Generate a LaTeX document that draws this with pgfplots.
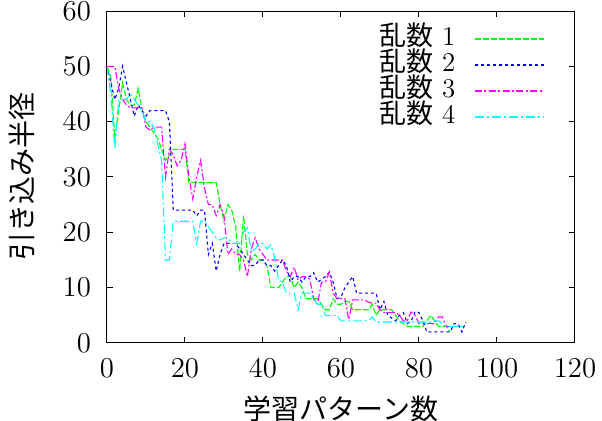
\documentclass[border=0pt]{standalone}
\usepackage{fontspec}
\usepackage{pgfplots}
\pgfplotsset{compat=1.18}
\newfontfamily\cjk{Noto Sans CJK JP}
\definecolor{gG}{RGB}{0,255,0}
\definecolor{gB}{RGB}{0,0,255}
\definecolor{gM}{RGB}{255,0,255}
\definecolor{gC}{RGB}{0,255,255}
\begin{document}
\begin{tikzpicture}
\begin{axis}[
  scale only axis, width=234pt, height=166pt,
  xmin=0, xmax=120, ymin=0, ymax=60,
  xtick={0,20,...,120}, ytick={0,10,...,60},
  tick align=inside, major tick length=3pt,
  axis line style={line width=0.5pt},
  tick style={line width=0.5pt, black},
  tick label style={font=\fontsize{14}{16}\selectfont},
  xticklabel style={yshift=-4.5pt},
  yticklabel style={xshift=-4.5pt},
  every axis x label/.style={at={(axis cs:60,-11.9)}, anchor=center},
  every axis y label/.style={at={(axis cs:-21.8,30)}, anchor=center, rotate=90},
  xlabel={\fontsize{14}{16}\selectfont\cjk 学習パターン数},
  ylabel={\fontsize{14}{16}\selectfont\cjk 引き込み半径},
  legend plot pos=right,
  legend cell align=right,
  legend image code/.code={\draw[mark repeat=2,mark phase=2,#1,line width=0.7pt] plot coordinates {(0pt,0pt) (17pt,0pt) (34.5pt,0pt)};},
  legend style={draw=none, at={(rel axis cs:0.949,0.968)}, anchor=north east,
    font=\fontsize{13.5}{15}\selectfont,
    nodes={inner sep=0pt, text height=9.5pt, text depth=3.5pt},
    row sep=0pt, column sep=9.5pt},
  every axis plot/.append style={line width=0.55pt},
]
\addplot[color=gG, dash pattern=on 3pt off 1pt] coordinates {
(0,50)(1,48)(2,37)(3,42)(4,47)(5,44)(6,43)(7,43)(8,46)(9,42)(10,40)(11,39)(12,38)(13,37)(14,35)(15,33)(16,34)(17,35)(18,35)(19,35)(20,35)
(21,29)(22,29)(23,29)(24,29)(25,29)(26,29)(27,29)(28,29)(29,25)(30,22)(31,25)(32,24)(33,21)(34,13)(35,23)(36,16)(37,15)(38,16)(39,15)(40,15)
(41,14)(42,10)(43,10)(44,10)(45,11)(46,12)(47,12)(48,10)(49,11)(50,10)(51,8)(52,8)(53,8)(54,8)(55,7)(56,6)(57,6)(58,8)(59,7)(60,7)
(61,7.5)(62,7.5)(63,6)(64,6)(65,6)(66,6)(67,6)(68,7)(69,5)(70,6)(71,6)(72,6)(73,6)(74,5)(75,4)(76,3.5)(77,3)(78,3)(79,3)(80,3)
(81,3)(82,4)(83,5)(84,4)(85,3)(86,3)(87,3)(88,2)
};
\addlegendentry{{\cjk 乱数} 1}
\addplot[color=gB, dash pattern=on 1.5pt off 1.5pt] coordinates {
(0,50)(1,47)(2,44)(3,46)(4,50)(5,47)(6,44)(7,41)(8,43)(9,42)(10,41)(11,42)(12,42)(13,42)(14,42)(15,42)(16,40)(17,24)(18,24)(19,24)(20,24)
(21,24)(22,24)(23,23)(24,24)(25,24)(26,16)(27,18)(28,13)(29,16)(30,18)(31,18)(32,18)(33,18)(34,17)(35,16)(36,15)(37,14)(38,14)(39,15)(40,15)
(41,14)(42,14)(43,13)(44,14)(45,15)(46,14)(47,11)(48,12)(49,12)(50,11)(51,12)(52,12)(53,12.7)(54,11)(55,11.5)(56,12)(57,12.8)(58,11)(59,8)(60,8.3)
(61,10)(62,11)(63,12)(64,9)(65,9)(66,9)(67,9)(68,9)(69,9)(70,6)(71,7.5)(72,5)(73,4.5)(74,4)(75,5)(76,5.5)(77,3.5)(78,4)(79,5.7)(80,5.5)
(81,4)(82,2)(83,2)(84,2)(85,2)(86,2)(87,2)(88,2)(89,3.5)(90,3.5)(91,2)(92,3.8)
};
\addlegendentry{{\cjk 乱数} 2}
\addplot[color=gM, dash pattern=on 3.5pt off 1.2pt on 1pt off 1.2pt] coordinates {
(0,50)(1,50)(2,50)(3,46)(4,44)(5,43)(6,42.5)(7,42.5)(8,42.5)(9,42.5)(10,39)(11,38.5)(12,39)(13,39)(14,39)(15,30)(16,35)(17,34)(18,32)(19,33)(20,36)
(21,30)(22,26)(23,30)(24,33)(25,28)(26,25)(27,25)(28,23)(29,25)(30,23)(31,16)(32,17)(33,16)(34,16)(35,15)(36,12)(37,17)(38,19)(39,17)(40,16)
(41,15)(42,15)(43,15)(44,15)(45,15)(46,13)(47,12)(48,13.7)(49,11.4)(50,12)(51,12)(52,11.5)(53,8)(54,7)(55,11)(56,11)(57,12.8)(58,9)(59,8)(60,8)
(61,8)(62,4.2)(63,7.8)(64,7.8)(65,7.8)(66,7.8)(67,7.4)(68,7.2)(69,7.2)(70,6)(71,5.5)(72,5.5)(73,5.5)(74,5.5)(75,5)(76,4)(77,4)(78,5.6)(79,5)(80,3.5)
(81,3.5)(82,3.5)(83,3.5)(84,3.5)(85,4.7)(86,4.7)(87,3)(88,3)
};
\addlegendentry{{\cjk 乱数} 3}
\addplot[color=gC, dash pattern=on 4.5pt off 1.5pt on 1pt off 1.5pt] coordinates {
(0,50)(1,45)(2,35)(3,44)(4,44)(5,44)(6,45)(7,44)(8,43)(9,42)(10,40)(11,40)(12,39)(13,36)(14,33)(15,15)(16,15)(17,22)(18,22)(19,22)(20,22)
(21,22)(22,22)(23,18)(24,22)(25,22)(26,21)(27,20)(28,19)(29,18.6)(30,19)(31,19)(32,18)(33,18)(34,18)(35,20)(36,20.8)(37,16.5)(38,17)(39,18)(40,18)
(41,17)(42,17.7)(43,15.4)(44,11.4)(45,11)(46,9)(47,9)(48,9)(49,6)(50,9)(51,9)(52,9)(53,8)(54,7)(55,7)(56,5)(57,5)(58,5)(59,5)(60,4)
(61,4)(62,4)(63,4)(64,4)(65,4)(66,4)(67,4)(68,4.7)(69,3.8)(70,3.8)(71,3.8)(72,3.8)(73,3.8)(74,3.8)(75,3.8)(76,3.8)(77,3.8)(78,3.8)(79,3.8)(80,3.8)
(81,3.8)(82,3.8)(83,3.8)(84,4)(85,4)(86,3.5)(87,3)(88,3)(89,3)(90,3)(91,3)(92,3)
};
\addlegendentry{{\cjk 乱数} 4}
\end{axis}
\pgfresetboundingbox
\path[use as bounding box] (-53.5pt,-39pt) rectangle (247.5pt,171.5pt);
\end{tikzpicture}
\end{document}
